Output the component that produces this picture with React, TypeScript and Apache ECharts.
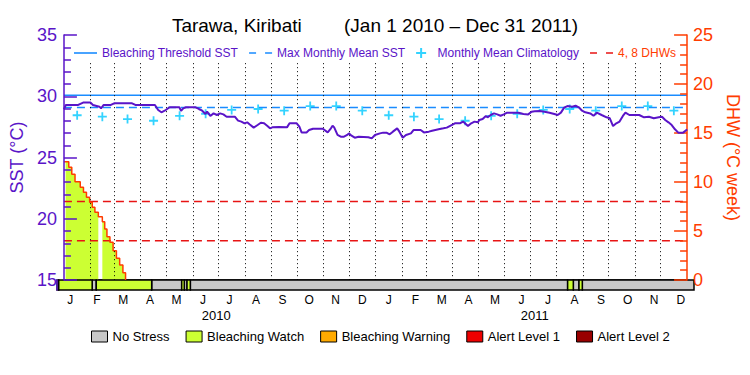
import React, { useEffect, useRef } from 'react';
import * as echarts from 'echarts';

const PURPLE = '#5a14c8';
const ORANGE = '#ff3c00';
const RED = '#e81414';
const BLUE = '#1a8cff';
const CYAN = '#00c8ff';
const FONT = 'Liberation Sans';

const monthLetters = ['J', 'F', 'M', 'A', 'M', 'J', 'J', 'A', 'S', 'O', 'N', 'D'];
const years = ['2010', '2011'];
const monthLengths = [31, 28, 31, 30, 31, 30, 31, 31, 30, 31, 30, 31];

const climatology = [28.45, 28.33, 28.14, 28.0, 28.4, 28.57, 28.88, 28.96, 28.82, 29.2, 29.2, 28.82];
const maxMonthlyMean = 29.08;
const bleachingThreshold = 30.08;
const dhwGuides = [4, 8];

const sstDays = [
  0, 2.3, 16.8, 22.5, 31.3, 34, 41.6, 43.5, 46.6, 55, 58.8, 79.8, 83.7, 106.6, 110.4, 114.2, 118, 123.8, 135.2, 137.2,
  139.8, 142.9, 154.3, 158.1, 162, 165.8, 167.7, 171.5, 175.3, 179.2, 183, 186.8,
  190.6, 200.2, 204, 207.8, 211.6, 214.7, 217.4, 222.3, 226.9, 230.7, 234.5, 238.4, 241.4, 244.1, 251.7, 261.3,
  264.3, 272.7, 275.8, 278.4, 284.2, 287.2, 291.8, 303.3, 309, 312.8, 314.7, 316.6, 320.5, 324.3, 328.1, 331.9,
  333.8, 336.9, 340.7, 345.3, 356.7, 360.6, 364.4,
  370.2, 374, 377.8, 381.6, 385.4, 390.4, 393, 396.9, 400.7, 406.5, 409.5, 417.9, 421.7, 427.5, 431.3, 438.9,
  444.6, 448.5, 454.2, 458, 463.8, 467.6, 473.3, 477.1, 481, 484.8, 486.7, 490.5, 494.3, 496.2, 500, 503.8,
  507.6, 511.5, 515.3, 519.1, 532.5, 538.2, 543.9, 547.8,
  551.6, 557.3, 563, 568.8, 574.5, 578.4, 582.2, 586, 589.8, 595.5, 599.4, 603.2, 607, 610.8, 616.6, 620.4,
  624.2, 629.9, 635.7, 639.5, 643.3, 647.1, 650.9, 654.8, 657.8, 662.4, 673.9, 679.6, 685.3, 691, 696.8, 700.6,
  704.4, 708.2, 712, 715.8, 719.7, 725.4, 729.2, 730,
];
const sstValues = [
  28.93, 29.29, 29.29, 29.48, 29.48, 29.29, 29.15, 29.01, 29.29, 29.29, 29.42, 29.42, 29.29, 29.29, 28.88, 28.69, 28.82, 29.1, 29.1, 28.8,
  29.01, 29.1, 29.1, 28.96, 28.82, 28.55, 28.74, 28.39, 28.6, 28.47, 28.6, 28.52,
  28.33, 28.33, 28.01, 27.93, 27.79, 27.87, 27.71, 27.44, 27.65, 27.84, 27.79, 27.57, 27.38, 27.46, 27.49, 27.46,
  27.79, 27.79, 27.52, 27.05, 27.05, 27.24, 27.35, 27.35, 27.05, 27.38, 27.6, 27.46, 26.84, 26.7, 26.7, 26.84,
  26.97, 26.78, 26.62, 26.7, 26.65, 26.56, 26.84,
  26.97, 27.03, 27.03, 26.89, 27.11, 27.38, 27.11, 26.62, 26.84, 26.97, 27.24, 27.24, 27.05, 27.11, 27.19, 27.3,
  27.38, 27.44, 27.65, 27.79, 27.79, 27.93, 27.57, 27.79, 27.93, 27.87, 28.06, 28.14, 28.39, 28.28, 28.47, 28.6,
  28.52, 28.41, 28.52, 28.66, 28.66, 28.55, 28.52, 28.74,
  28.78, 28.8, 28.74, 28.66, 28.55, 28.47, 28.66, 29.07, 29.2, 29.15, 29.23, 29.1, 28.82, 28.69, 28.6, 28.41,
  28.66, 28.47, 28.28, 28.2, 27.57, 27.79, 27.93, 28.39, 28.66, 28.47, 28.47, 28.28, 28.33, 28.2, 28.28, 28.33,
  28.06, 27.87, 27.65, 27.3, 27.03, 27.03, 27.24, 27.3,
];

const dhwDays = [0, 5.7, 9.2, 13, 19.1, 22.9, 26.4, 30.1, 33.2, 36.3, 40.3, 45, 47.8, 50.4, 53.9, 57.6, 61.5, 65.3, 69.1, 72.2];
const dhwValues = [12.07, 11.5, 10.78, 10.03, 9.46, 8.95, 8.44, 7.93, 7.42, 6.91, 6.46, 5.95, 5.2, 4.42, 3.85, 2.99, 2.21, 1.53, 0.74, 0];

const alertStarts = [0, 2, 40.3, 45, 108.5, 142.9, 145.9, 149, 152.8, 585.2, 591.7, 598.2, 602];
const alertEnds = [2, 40.3, 45, 108.5, 142.9, 145.9, 149, 152.8, 585.2, 591.7, 598.2, 602, 730];
const alertLevels = [0, 1, 0, 1, 0, 1, 0, 1, 0, 1, 0, 1, 0];

const levelNames = ['No Stress', 'Bleaching Watch', 'Bleaching Warning', 'Alert Level 1', 'Alert Level 2'];
const levelColors = ['#c8c8c8', '#ccff33', '#ffaa00', '#ee0000', '#990000'];

const PLUS = 'path://M4,0H6V4H10V6H6V10H4V6H0V4H4Z';
const SOLID_ICON = 'path://M0,0H23V1.6H0Z';
const DASH_ICON = 'path://M0,0H7V1.6H0ZM16,0H23V1.6H16Z';

function dhwAt(t: number): number {
  let v = 0;
  for (let i = 0; i < dhwDays.length; i++) {
    if (dhwDays[i] <= t) v = dhwValues[i];
    else break;
  }
  return v;
}

function buildOption() {
  const monthStarts: number[] = [];
  const monthMids: number[] = [];
  let acc = 0;
  for (let y = 0; y < years.length; y++) {
    for (let m = 0; m < 12; m++) {
      monthStarts.push(acc);
      monthMids.push(acc + monthLengths[m] / 2);
      acc += monthLengths[m];
    }
  }
  const totalDays = acc;
  const monthCats: string[] = [];
  years.forEach(() => monthLetters.forEach((l) => monthCats.push(l)));

  const sstData = sstDays.map((d, i) => [d, sstValues[i]]);
  const dhwData = dhwDays.map((d, i) => [d, dhwValues[i]]);
  const climData = monthMids.map((d, i) => [d, climatology[i % 12]]);
  const segments = alertStarts.map((s, i) => [s, alertEnds[i], alertLevels[i]]);

  const fillRender = (params: any, api: any) => {
    const s = api.value(0);
    const e = api.value(1);
    const lvl = api.value(2);
    const pts: number[][] = [api.coord([s, 0]), api.coord([s, dhwAt(s)])];
    for (let i = 1; i < dhwDays.length; i++) {
      const d = dhwDays[i];
      if (d > s && d < e) {
        pts.push(api.coord([d, dhwValues[i - 1]]));
        pts.push(api.coord([d, dhwValues[i]]));
      }
    }
    pts.push(api.coord([e, dhwAt(e - 1e-6)]));
    pts.push(api.coord([e, 0]));
    return { type: 'polygon', shape: { points: pts }, style: { fill: levelColors[lvl] } };
  };

  const stripRender = (params: any, api: any) => {
    const p0 = api.coord([api.value(0), 1]);
    const p1 = api.coord([api.value(1), 0]);
    return {
      type: 'rect',
      shape: { x: p0[0], y: p0[1], width: p1[0] - p0[0], height: p1[1] - p0[1] },
      style: { fill: api.visual('color'), stroke: '#000', lineWidth: 1.5 },
    };
  };

  const series: any[] = [
    {
      type: 'custom',
      name: 'dhwFill',
      xAxisIndex: 0,
      yAxisIndex: 1,
      clip: true,
      silent: true,
      z: 1,
      encode: { x: [0, 1], y: 2 },
      data: segments.filter((s) => s[2] >= 1),
      renderItem: fillRender,
    },
    ...dhwGuides.map((v) => ({
      type: 'line',
      name: '4, 8 DHWs',
      xAxisIndex: 0,
      yAxisIndex: 1,
      data: [[0, v], [totalDays, v]],
      symbol: 'none',
      silent: true,
      z: 3,
      itemStyle: { color: RED },
      lineStyle: { color: RED, width: 1.5, type: [8, 5] },
    })),
    {
      type: 'line',
      name: 'DHW',
      xAxisIndex: 0,
      yAxisIndex: 1,
      data: dhwData,
      step: 'end',
      symbol: 'none',
      silent: true,
      z: 4,
      lineStyle: { color: ORANGE, width: 1.5 },
    },
    {
      type: 'line',
      name: 'Bleaching Threshold SST',
      xAxisIndex: 0,
      yAxisIndex: 0,
      data: [[0, bleachingThreshold], [totalDays, bleachingThreshold]],
      symbol: 'none',
      silent: true,
      z: 3,
      itemStyle: { color: BLUE },
      lineStyle: { color: BLUE, width: 1.5 },
      markLine: {
        silent: true,
        symbol: ['none', 'none'],
        label: { show: false },
        lineStyle: { color: '#000', width: 1, type: [1, 3] },
        data: monthStarts.slice(1).map((d) => [{ coord: [d, 32.7] }, { coord: [d, 15] }]),
      },
    },
    {
      type: 'line',
      name: 'Max Monthly Mean SST',
      xAxisIndex: 0,
      yAxisIndex: 0,
      data: [[0, maxMonthlyMean], [totalDays, maxMonthlyMean]],
      symbol: 'none',
      silent: true,
      z: 3,
      itemStyle: { color: BLUE },
      lineStyle: { color: BLUE, width: 1.5, type: [8, 5] },
    },
    {
      type: 'scatter',
      name: 'Monthly Mean Climatology',
      xAxisIndex: 0,
      yAxisIndex: 0,
      data: climData,
      symbol: PLUS,
      symbolSize: 9,
      silent: true,
      z: 5,
      itemStyle: { color: CYAN },
    },
    {
      type: 'line',
      name: 'SST',
      xAxisIndex: 0,
      yAxisIndex: 0,
      data: sstData,
      symbol: 'none',
      silent: true,
      z: 6,
      lineStyle: { color: PURPLE, width: 2 },
    },
    ...levelNames.map((n, lvl) => ({
      type: 'custom',
      name: n,
      xAxisIndex: 1,
      yAxisIndex: 2,
      silent: true,
      z: 2,
      itemStyle: { color: levelColors[lvl], borderColor: '#000', borderWidth: 1 },
      encode: { x: [0, 1], y: 2 },
      data: segments.filter((s) => s[2] === lvl).map((s) => [s[0], s[1], 0.5]),
      renderItem: stripRender,
    })),
  ];

  return {
    animation: false,
    backgroundColor: '#fff',
    textStyle: { fontFamily: FONT },
    title: {
      text: 'Tarawa, Kiribati' + '\u00a0'.repeat(8) + '(Jan 1 2010 \u2013 Dec 31 2011)',
      left: 'center',
      top: 11,
      textStyle: { fontFamily: FONT, fontSize: 19, fontWeight: 'normal', color: '#000' },
    },
    legend: [
      {
        left: 69,
        top: 42,
        itemWidth: 23,
        itemHeight: 10,
        itemGap: 11,
        selectedMode: false,
        textStyle: { color: PURPLE, fontSize: 12, fontFamily: FONT },
        data: [
          { name: 'Bleaching Threshold SST', icon: SOLID_ICON, itemStyle: { color: BLUE } },
          { name: 'Max Monthly Mean SST', icon: DASH_ICON, itemStyle: { color: BLUE } },
          { name: 'Monthly Mean Climatology', icon: PLUS, itemStyle: { color: CYAN } },
          { name: '4, 8 DHWs', icon: DASH_ICON, itemStyle: { color: RED }, textStyle: { color: ORANGE } },
        ],
      },
      {
        left: 86,
        top: 325,
        itemWidth: 16,
        itemHeight: 11,
        itemGap: 16,
        selectedMode: false,
        icon: 'rect',
        textStyle: { color: '#000', fontSize: 13, fontFamily: FONT },
        data: levelNames.map((n, i) => ({
          name: n,
          itemStyle: { color: levelColors[i], borderColor: '#000', borderWidth: 1 },
        })),
      },
    ],
    grid: [
      { left: 57, top: 35, width: 637, height: 245 },
      { left: 57, top: 280, width: 637, height: 10 },
    ],
    xAxis: [
      {
        type: 'value',
        gridIndex: 0,
        min: 0,
        max: totalDays,
        position: 'top',
        axisLine: { show: true, lineStyle: { color: '#000', width: 1.5 } },
        axisTick: { show: false },
        axisLabel: { show: false },
        splitLine: { show: false },
      },
      {
        type: 'value',
        gridIndex: 1,
        min: 0,
        max: totalDays,
        show: false,
      },
      {
        type: 'category',
        gridIndex: 1,
        position: 'bottom',
        data: monthCats,
        boundaryGap: true,
        axisLine: { show: false },
        axisTick: { show: false },
        axisLabel: { interval: 0, color: '#000', fontSize: 12, margin: 4, fontFamily: FONT },
      },
      {
        type: 'category',
        gridIndex: 1,
        position: 'bottom',
        data: years,
        boundaryGap: true,
        axisLine: { show: false },
        axisTick: { show: false },
        axisLabel: { interval: 0, color: '#000', fontSize: 13, margin: 19, fontFamily: FONT },
      },
    ],
    yAxis: [
      {
        type: 'value',
        gridIndex: 0,
        position: 'left',
        min: 15,
        max: 35,
        interval: 5,
        z: 5,
        axisLine: { show: true, lineStyle: { color: PURPLE, width: 1.5 } },
        axisTick: { show: true, inside: true, length: 13, lineStyle: { color: PURPLE, width: 1.5 } },
        minorTick: { show: true, splitNumber: 5, length: 7, lineStyle: { color: PURPLE, width: 1.5 } },
        axisLabel: { color: PURPLE, fontSize: 18, margin: 7, fontFamily: FONT },
        splitLine: { show: false },
        name: 'SST (\u00b0C)',
        nameLocation: 'middle',
        nameGap: 35,
        nameTextStyle: { color: PURPLE, fontSize: 18, fontFamily: FONT },
      },
      {
        type: 'value',
        gridIndex: 0,
        position: 'right',
        min: 0,
        max: 25,
        interval: 5,
        z: 5,
        axisLine: { show: true, lineStyle: { color: ORANGE, width: 1.5 } },
        axisTick: { show: true, inside: true, length: 13, lineStyle: { color: ORANGE, width: 1.5 } },
        minorTick: { show: true, splitNumber: 5, length: 7, lineStyle: { color: ORANGE, width: 1.5 } },
        axisLabel: { color: ORANGE, fontSize: 18, margin: 6, fontFamily: FONT },
        splitLine: { show: false },
        name: 'DHW (\u00b0C week)',
        nameLocation: 'middle',
        nameRotate: -90,
        nameGap: 30,
        nameTextStyle: { color: ORANGE, fontSize: 18, fontFamily: FONT },
      },
      {
        type: 'value',
        gridIndex: 1,
        position: 'left',
        min: 0,
        max: 1,
        z: 5,
        axisLine: { show: true, lineStyle: { color: PURPLE, width: 1.5 } },
        axisTick: { show: false },
        axisLabel: { show: false },
        splitLine: { show: false },
      },
    ],
    series,
  };
}

export default function App() {
  const ref = useRef<HTMLDivElement>(null);
  useEffect(() => {
    document.body.style.margin = '0';
    if (!ref.current) return;
    const chart = echarts.init(ref.current, undefined, { renderer: 'svg' });
    chart.setOption(buildOption() as any);
    return () => chart.dispose();
  }, []);
  return <div ref={ref} style={{ width: 750, height: 375, background: '#fff' }} />;
}
